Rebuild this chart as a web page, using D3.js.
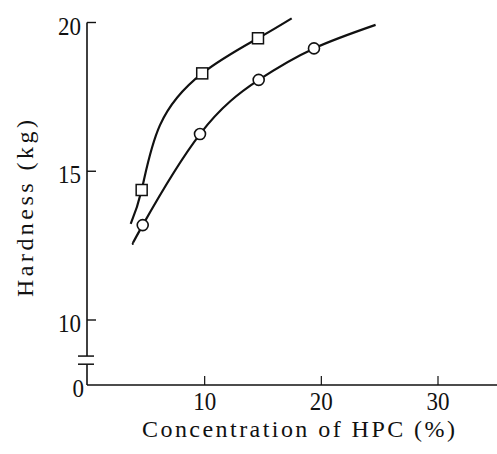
<!DOCTYPE html>
<html>
<head>
<meta charset="utf-8">
<script src="https://cdn.jsdelivr.net/npm/d3@7"></script>
<style>
  html, body { margin: 0; padding: 0; background: #fff; }
  svg { display: block; }
  text { font-family: "Liberation Serif", "DejaVu Serif", serif; fill: #111; }
</style>
</head>
<body>
<div id="chart"></div>
<script>
// ---- data ----
const squareX = [4.6, 9.79, 14.57];
const squareY = [14.37, 18.29, 19.47];
const circleX = [4.69, 9.6, 14.63, 19.37];
const circleY = [13.19, 16.25, 18.07, 19.13];
// fitted curves drawn through the points
const squareCurveX = [3.66, 4.6, 6.17, 9.79, 14.57, 17.46];
const squareCurveY = [13.23, 14.37, 16.55, 18.29, 19.47, 20.14];
const circleCurveX = [3.88, 4.69, 9.6, 14.63, 19.37, 24.65];
const circleCurveY = [12.58, 13.19, 16.25, 18.07, 19.13, 19.92];
const xTicks = [10, 20, 30];
const xTickLabels = ["10", "20", "30"];
const yTicks = [0, 10, 15, 20];
const yTickLabels = ["0", "10", "15", "20"];
const yBreak = [4.45, 3.2];
const xTitle = "Concentration of HPC (%)";
const yTitle = "Hardness (kg)";

// ---- drawing ----
const W = 497, H = 454;
const svg = d3.select("#chart").append("svg").attr("width", W).attr("height", H);
svg.append("rect").attr("width", W).attr("height", H).attr("fill", "#fff");

const x = d3.scaleLinear().domain([0, 30]).range([88, 438]);
const y = d3.scaleLinear().domain([0, 10, 20]).range([385, 320, 22.5]);
const axisX = 87;

const g = svg.append("g").attr("stroke", "#111").attr("fill", "none");

// y axis with break
g.append("line").attr("x1", axisX).attr("x2", axisX)
  .attr("y1", y(20)).attr("y2", y(yBreak[0])).attr("stroke-width", 1.6);
g.append("line").attr("x1", axisX).attr("x2", axisX)
  .attr("y1", y(yBreak[1])).attr("y2", y(0)).attr("stroke-width", 1.6);
yBreak.forEach(v => {
  g.append("line").attr("x1", axisX - 9).attr("x2", axisX + 7)
    .attr("y1", y(v)).attr("y2", y(v)).attr("stroke-width", 1.5);
});
// x axis
g.append("line").attr("x1", axisX).attr("x2", W)
  .attr("y1", y(0)).attr("y2", y(0)).attr("stroke-width", 1.6);

// y ticks (inside, to the right)
yTicks.filter(v => v > 0).forEach(v => {
  g.append("line").attr("x1", axisX).attr("x2", axisX + 9)
    .attr("y1", y(v)).attr("y2", y(v)).attr("stroke-width", 1.4);
});
// x ticks (inside, upward)
xTicks.forEach(v => {
  g.append("line").attr("x1", x(v)).attr("x2", x(v))
    .attr("y1", y(0)).attr("y2", y(0) - 9).attr("stroke-width", 1.2);
});

// tick labels
yTicks.forEach((v, i) => {
  const lab = yTickLabels[i];
  svg.append("text").attr("x", v === 0 ? 84 : 81).attr("y", y(v) + 12)
    .attr("text-anchor", "end").attr("font-size", 26)
    .attr("textLength", lab.length * 11.5).attr("lengthAdjust", "spacingAndGlyphs")
    .text(lab);
});
xTicks.forEach((v, i) => {
  const lab = xTickLabels[i];
  svg.append("text").attr("x", x(v) - 11.5).attr("y", 410)
    .attr("font-size", 26)
    .attr("textLength", lab.length * 11.5).attr("lengthAdjust", "spacingAndGlyphs")
    .text(lab);
});

// axis titles
svg.append("text").attr("x", 142).attr("y", 437).attr("font-size", 24)
  .attr("textLength", 313).attr("lengthAdjust", "spacing").text(xTitle);
svg.append("text").attr("transform", "translate(33,297) rotate(-90)")
  .attr("x", 0).attr("y", 0).attr("font-size", 24)
  .attr("textLength", 177).attr("lengthAdjust", "spacing").text(yTitle);

// curves
const line = d3.line().x(d => x(d[0])).y(d => y(d[1])).curve(d3.curveNatural);
const sq = squareCurveX.map((v, i) => [v, squareCurveY[i]]);
const ci = circleCurveX.map((v, i) => [v, circleCurveY[i]]);
g.append("path").attr("d", line(sq)).attr("stroke-width", 2.2);
g.append("path").attr("d", line(ci)).attr("stroke-width", 2.2);

// markers
const s = 11;
svg.selectAll("rect.sq").data(squareX.map((v, i) => [v, squareY[i]])).enter()
  .append("rect").attr("class", "sq")
  .attr("x", d => x(d[0]) - s / 2).attr("y", d => y(d[1]) - s / 2)
  .attr("width", s).attr("height", s)
  .attr("fill", "#fff").attr("stroke", "#111").attr("stroke-width", 1.5);
svg.selectAll("circle.ci").data(circleX.map((v, i) => [v, circleY[i]])).enter()
  .append("circle").attr("class", "ci")
  .attr("cx", d => x(d[0])).attr("cy", d => y(d[1])).attr("r", 5.5)
  .attr("fill", "#fff").attr("stroke", "#111").attr("stroke-width", 1.6);
</script>
</body>
</html>
